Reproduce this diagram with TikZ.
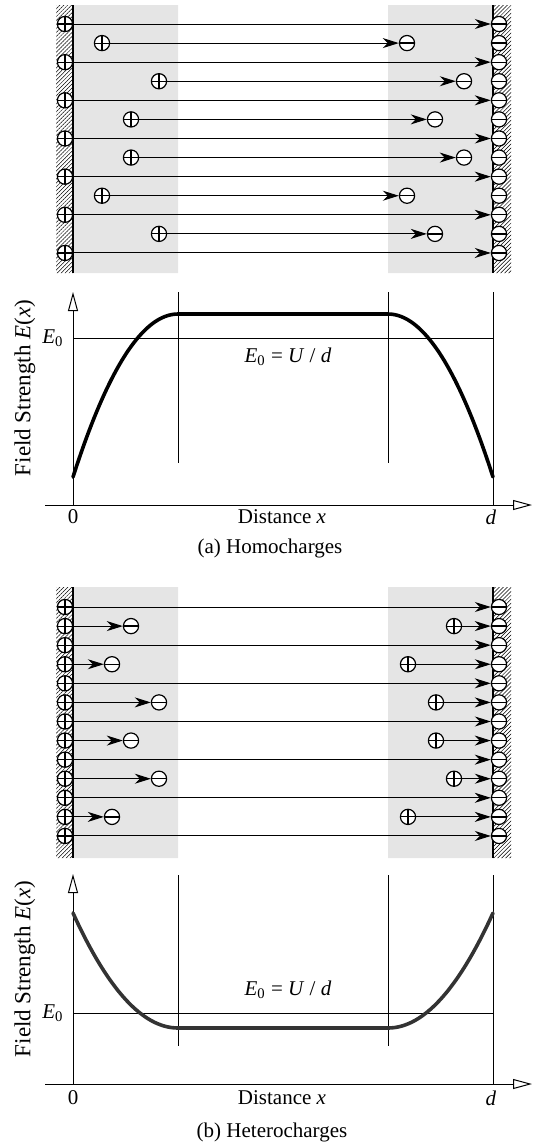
\documentclass[tikz,border=0pt]{standalone}
\usepackage{fontspec}
\setmainfont{Liberation Serif}
\usetikzlibrary{arrows.meta,patterns.meta}

\tikzset{
  charge/.style={circle,draw,fill=white,inner sep=0pt,minimum size=7.6pt,line width=0.6pt},
  poscharge/.style={charge,path picture={
      \draw[line width=0.55pt] (path picture bounding box.west) -- (path picture bounding box.east)
                              (path picture bounding box.north) -- (path picture bounding box.south);}},
  negcharge/.style={charge,path picture={
      \draw[line width=0.65pt] (path picture bounding box.west) -- (path picture bounding box.east);}},
  field/.style={-{Stealth[length=8pt,width=5pt,inset=2.5pt]},line width=0.5pt},
  layer/.style={fill=black!10},
  electrode/.style={pattern={Lines[angle=45,distance=1.4pt,line width=0.25pt]}},
  surface/.style={line width=0.8pt},
  axis/.style={-{Triangle[open,length=9.5pt,width=5pt]},line width=0.5pt},
  guide/.style={line width=0.5pt},
  curve/.style={line width=1.8pt,line cap=round},
  ylab/.style={rotate=90,font=\fontsize{11.5}{13}\selectfont},
}

\begin{document}
\begin{tikzpicture}[x=0.5pt,y=-0.5pt,font=\fontsize{10.5}{12}\selectfont]
  \useasboundingbox (0,0) rectangle (535,1142);

  % (a) homocharges
  \fill[layer] (73,5) rectangle (178,273) (388,5) rectangle (493,273);
  \fill[electrode] (56,5) rectangle (73,273) (493,5) rectangle (511,273);
  \draw[surface] (73,5) -- (73,273) (493,5) -- (493,273);
  \foreach \i in {1,...,13}
    \node[negcharge] (am\i) at (499,{24+19.08*(\i-1)}) {};
  \foreach \i in {1,...,7}{
    \pgfmathtruncatemacro\j{2*\i-1}
    \node[poscharge] (ap\i) at (65,{24+38.16*(\i-1)}) {};
    \draw[field] (ap\i) -- (am\j);
  }
  \foreach \xp/\xm [count=\k] in {102/407,159/464,131/435,131/464,102/407,159/435}{
    \node[poscharge] (afp\k) at (\xp,{24+19.08*(2*\k-1)}) {};
    \node[negcharge] (afm\k) at (\xm,{24+19.08*(2*\k-1)}) {};
    \draw[field] (afp\k) -- (afm\k);
  }

  \draw[axis] (45,505) -- (532,505);
  \draw[axis] (73,505) -- (73,292);
  \draw[guide] (73,338) -- (493,338);
  \draw[guide] (178,292) -- (178,463) (388,292) -- (388,463) (493,292) -- (493,505);
  \draw[curve] (73,477) .. controls (108,368) and (143,314) .. (178,314) -- (388,314)
               .. controls (423,314) and (458,368) .. (493,477);
  \node (e0a) at (53,338) {\textit{E}\textsubscript{0}};
  \node (eqa) at (288,357) {\textit{E}\textsubscript{0} = \textit{U} / \textit{d}};
  \node (zeroa) at (73,517) {0};
  \node (xlaba) at (282,517) {Distance \textit{x}};
  \node (da) at (491,517) {\textit{d}};
  \node (capa) at (270,548) {(a) Homocharges};
  \node[ylab] (ylaba) at (25,388) {Field Strength \textit{E}(\textit{x})};

  % (b) heterocharges
  \fill[layer] (73,587) rectangle (178,858) (388,587) rectangle (493,858);
  \fill[electrode] (56,587) rectangle (73,858) (493,587) rectangle (511,858);
  \draw[surface] (73,587) -- (73,858) (493,587) -- (493,858);
  \foreach \i in {1,...,13}{
    \node[poscharge] (bp\i) at (65,{607+19.08*(\i-1)}) {};
    \node[negcharge] (bm\i) at (499,{607+19.08*(\i-1)}) {};
  }
  \foreach \i in {1,3,...,13}
    \draw[field] (bp\i) -- (bm\i);
  \foreach \i/\xm/\xp in {2/131/454,4/112/408,6/159/436,8/131/436,10/159/454,12/112/408}{
    \node[negcharge] (bfm\i) at (\xm,{607+19.08*(\i-1)}) {};
    \node[poscharge] (bfp\i) at (\xp,{607+19.08*(\i-1)}) {};
    \draw[field] (bp\i) -- (bfm\i);
    \draw[field] (bfp\i) -- (bm\i);
  }

  \draw[axis] (45,1084) -- (532,1084);
  \draw[axis] (73,1084) -- (73,874);
  \draw[guide] (73,1013) -- (493,1013);
  \draw[guide] (178,875) -- (178,1046) (388,875) -- (388,1046) (493,875) -- (493,1084);
  \draw[curve,black!80] (73,913) .. controls (108,990) and (143,1028) .. (178,1028) -- (388,1028)
               .. controls (423,1028) and (458,990) .. (493,913);
  \node (e0b) at (53,1013) {\textit{E}\textsubscript{0}};
  \node (eqb) at (288,990) {\textit{E}\textsubscript{0} = \textit{U} / \textit{d}};
  \node (zerob) at (73,1098) {0};
  \node (xlabb) at (282,1098) {Distance \textit{x}};
  \node (db) at (491,1098) {\textit{d}};
  \node (capb) at (272,1132) {(b) Heterocharges};
  \node[ylab] (ylabb) at (25,969) {Field Strength \textit{E}(\textit{x})};
\end{tikzpicture}
\end{document}
